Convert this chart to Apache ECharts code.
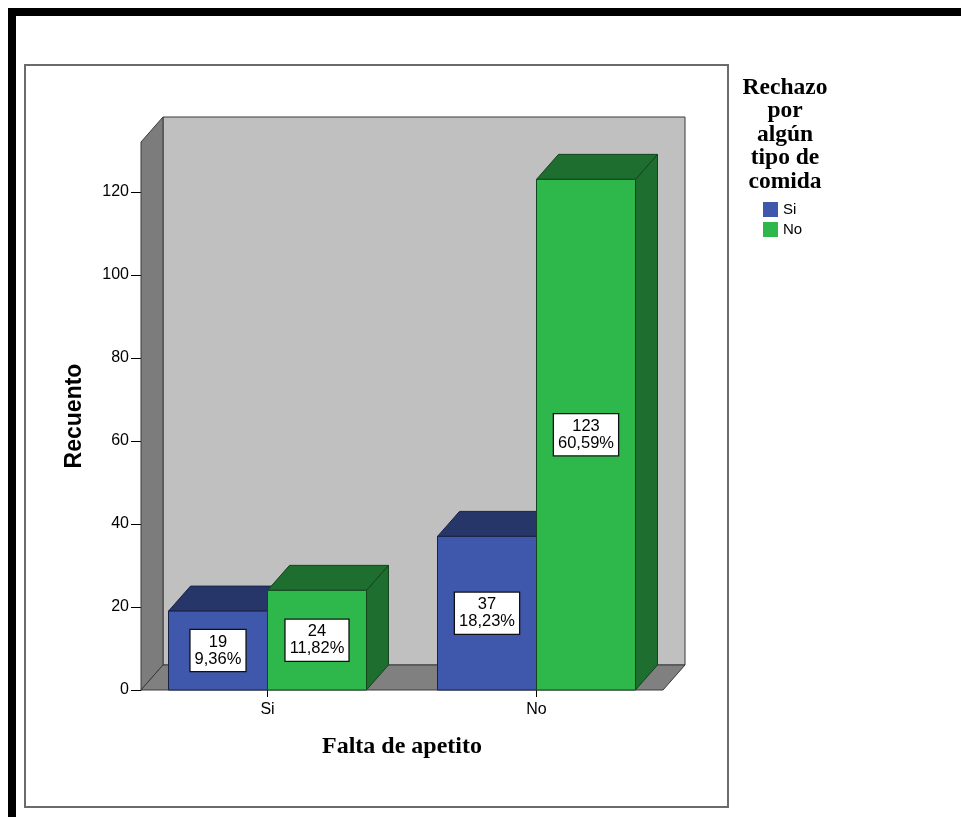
<!DOCTYPE html>
<html>
<head>
<meta charset="utf-8">
<script src="https://cdn.jsdelivr.net/npm/echarts@6/dist/echarts.min.js"></script>
<style>
  html, body { margin: 0; padding: 0; background: #ffffff; }
  #chart { width: 961px; height: 817px; }
</style>
</head>
<body>
<div id="chart"></div>
<script>
// Falta de apetito (x categories) split by "Rechazo por algún tipo de comida"
const categories = ['Si', 'No'];
const groupNames = ['Si', 'No'];
const countsSi = [19, 37];
const countsNo = [24, 123];
const yTicks = [0, 20, 40, 60, 80, 100, 120];
const yMax = 132;

const total = countsSi.concat(countsNo).reduce((a, b) => a + b, 0);

// 3D depth offset of the pseudo-perspective walls and bars
const DX = 22, DY = -25;
const BAR_RATIO = 0.368;

const palette = {
  Si: { front: '#3f58ab', top: '#263668', side: '#263668', edge: '#1a2347' },
  No: { front: '#2eb84c', top: '#1d6e2f', side: '#1d6e2f', edge: '#14451e' }
};

function pct(v) {
  return (v / total * 100).toFixed(2).replace('.', ',') + '%';
}

function barRenderer(side, colors) {
  return function (params, api) {
    const idx = api.value(0);
    const v = api.value(1);
    const base = api.coord([idx, 0]);
    const top = api.coord([idx, v])[1];
    const band = api.size([1, 0])[0];
    const w = band * BAR_RATIO;
    const x0 = side < 0 ? base[0] - w : base[0];
    const x1 = x0 + w;
    const b = base[1];
    const edge = { stroke: colors.edge, lineWidth: 1 };
    return {
      type: 'group',
      children: [
        { type: 'polygon', shape: { points: [[x1, top], [x1 + DX, top + DY], [x1 + DX, b + DY], [x1, b]] },
          style: Object.assign({ fill: colors.side }, edge) },
        { type: 'polygon', shape: { points: [[x0, top], [x1, top], [x1 + DX, top + DY], [x0 + DX, top + DY]] },
          style: Object.assign({ fill: colors.top }, edge) },
        { type: 'rect', shape: { x: x0, y: top, width: w, height: b - top },
          style: Object.assign({ fill: colors.front }, edge) },
        { type: 'text', x: (x0 + x1) / 2, y: (top + b) / 2,
          style: {
            text: v + '\n' + pct(v),
            align: 'center', verticalAlign: 'middle',
            fontFamily: '"Liberation Sans", Arial, sans-serif', fontSize: 16.5,
            lineHeight: 17, fill: '#000',
            backgroundColor: '#ffffff', borderColor: '#111', borderWidth: 1.3,
            padding: [4, 4, 3, 4]
          } }
      ]
    };
  };
}

// Back wall, left wall and floor of the 3D frame
function frameRenderer(params, api) {
  const cs = params.coordSys;
  const L = cs.x + 8, R = cs.x + cs.width - 8;
  const T = cs.y, B = cs.y + cs.height;
  const edge = { stroke: '#3a3a3a', lineWidth: 1 };
  return {
    type: 'group',
    children: [
      { type: 'rect', shape: { x: L + DX, y: T + DY, width: R - L, height: B - T },
        style: Object.assign({ fill: '#c0c0c0' }, edge) },
      { type: 'polygon', shape: { points: [[L, B], [L, T], [L + DX, T + DY], [L + DX, B + DY]] },
        style: Object.assign({ fill: '#7c7c7c' }, edge) },
      { type: 'polygon', shape: { points: [[L, B], [R, B], [R + DX, B + DY], [L + DX, B + DY]] },
        style: Object.assign({ fill: '#808080' }, edge) }
    ]
  };
}

const chart = echarts.init(document.getElementById('chart'), null, { renderer: 'canvas' });

const sansFont = '"Liberation Sans", Arial, sans-serif';
const serifFont = '"Liberation Serif", "Times New Roman", serif';

chart.setOption({
  backgroundColor: '#ffffff',
  animation: false,
  grid: { left: 133, right: 290, top: 142, bottom: 127, containLabel: false },
  xAxis: {
    type: 'category',
    data: categories,
    axisLine: { show: false },
    axisTick: { show: true, alignWithLabel: true, length: 7, lineStyle: { color: '#000' } },
    axisLabel: { margin: 12, color: '#000', fontSize: 16, fontFamily: sansFont },
    name: 'Falta de apetito',
    nameLocation: 'middle',
    nameGap: 45,
    nameTextStyle: { color: '#000', fontSize: 24, fontWeight: 'bold', fontFamily: serifFont },
    splitLine: { show: false }
  },
  yAxis: {
    type: 'value',
    min: 0,
    max: yMax,
    offset: -8,
    axisLine: { show: true, lineStyle: { color: '#222' } },
    axisTick: { show: true, length: 10, customValues: yTicks, lineStyle: { color: '#000' } },
    axisLabel: { margin: 12, color: '#000', fontSize: 16, fontFamily: sansFont, customValues: yTicks },
    splitLine: { show: false },
    name: 'Recuento',
    nameLocation: 'middle',
    nameGap: 55,
    nameTextStyle: { color: '#000', fontSize: 23, fontWeight: 'bold', fontFamily: sansFont }
  },
  legend: {
    data: groupNames,
    orient: 'vertical',
    left: 763,
    top: 202,
    padding: 0,
    itemWidth: 15,
    itemHeight: 15,
    itemGap: 5,
    icon: 'rect',
    textStyle: { color: '#000', fontSize: 15, fontFamily: sansFont }
  },
  graphic: [
    { type: 'rect', z: 100, silent: true,
      shape: { x: 12, y: 12, width: 1000, height: 1000 },
      style: { fill: null, stroke: '#000', lineWidth: 8 } },
    { type: 'rect', z: -10, silent: true,
      shape: { x: 25, y: 65, width: 703, height: 742 },
      style: { fill: null, stroke: '#6b6b6b', lineWidth: 2 } },
    { type: 'text', x: 785, y: 76, silent: true,
      style: {
        text: 'Rechazo\npor\nalgún\ntipo de\ncomida',
        align: 'center', verticalAlign: 'top',
        fontFamily: serifFont,
        fontWeight: 'bold', fontSize: 23.5, lineHeight: 23.5, fill: '#000'
      } }
  ],
  series: [
    {
      type: 'custom', name: 'frame', silent: true, z: 1,
      renderItem: frameRenderer,
      data: [[0, 0]]
    },
    {
      type: 'custom', name: groupNames[0], z: 2,
      itemStyle: { color: palette.Si.front },
      renderItem: barRenderer(-1, palette.Si),
      data: countsSi.map((v, i) => [i, v])
    },
    {
      type: 'custom', name: groupNames[1], z: 2,
      itemStyle: { color: palette.No.front },
      renderItem: barRenderer(1, palette.No),
      data: countsNo.map((v, i) => [i, v])
    }
  ]
});
</script>
</body>
</html>
